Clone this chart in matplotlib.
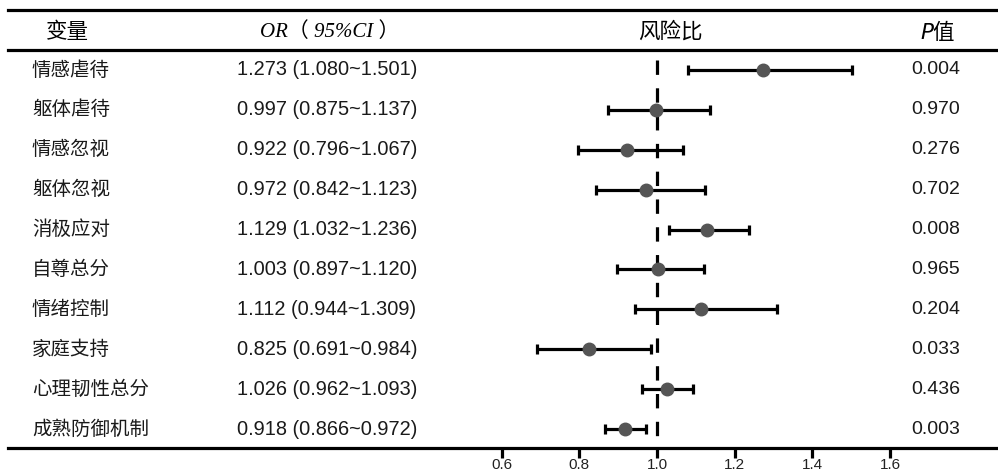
import matplotlib
matplotlib.use("Agg")
import matplotlib.pyplot as plt
import numpy as np

plt.rcParams['font.family'] = ['Noto Sans CJK SC', 'DejaVu Sans']

# ── Data ─────────────────────────────────────────────────────────────────────
variables = ["情感虐待", "躯体虐待", "情感忽视", "躯体忽视", "消极应对",
             "自尊总分", "情绪控制", "家庭支持", "心理韧性总分", "成熟防御机制"]
or_vals = [1.273, 0.997, 0.922, 0.972, 1.129, 1.003, 1.112, 0.825, 1.026, 0.918]
ci_low  = [1.080, 0.875, 0.796, 0.842, 1.032, 0.897, 0.944, 0.691, 0.962, 0.866]
ci_high = [1.501, 1.137, 1.067, 1.123, 1.236, 1.120, 1.309, 0.984, 1.093, 0.972]
p_vals  = ["0.004", "0.970", "0.276", "0.702", "0.008",
           "0.965", "0.204", "0.033", "0.436", "0.003"]
xticks  = [0.6, 0.8, 1.0, 1.2, 1.4, 1.6]

W, H = 998, 473
fig = plt.figure(figsize=(W / 100, H / 100), dpi=100)

# axes spans the whole table width; x scale: 1.0 -> px 657, 388.5 px per unit
px_left, px_right, px_top, px_bot = 8, 998, 10, 448
scale = 388.5
x0 = 1.0 - (657 - px_left) / scale
x1 = 1.0 + (px_right - 657) / scale
ax = fig.add_axes([px_left / W, 1 - px_bot / H,
                   (px_right - px_left) / W, (px_bot - px_top) / H])
ax.set_xlim(x0, x1)
# rows at px 70 + 39.9*i
ax.set_ylim((px_bot - 70) / 39.9, (px_top - 70) / 39.9)

def px(xp):
    # pixel x -> axes fraction
    return (xp - px_left) / (px_right - px_left)

def py(yp):
    # pixel y -> data y
    return (yp - 70) / 39.9

lw_rule = 2.3
for s in ["top", "left", "right"]:
    ax.spines[s].set_visible(False)
ax.spines["bottom"].set_linewidth(lw_rule)
ax.axhline(py(10), color="black", lw=lw_rule, clip_on=False)
ax.axhline(py(50), color="black", lw=lw_rule, clip_on=False)

# reference line at OR = 1
ax.plot([1.0, 1.0], [py(60), py(448)], color="black", lw=2.3,
        ls=(0, (4.5, 4.2)), zorder=1)

# forest plot
ypos = np.arange(len(variables))
or_arr = np.array(or_vals)
err = [or_arr - np.array(ci_low), np.array(ci_high) - or_arr]
ax.errorbar(or_arr, ypos, xerr=err, fmt="o", color="#555555", ms=9,
            ecolor="black", elinewidth=2.3, capsize=3.6, capthick=2.3, zorder=3)

# axis ticks
ax.set_yticks([])
ax.set_xticks(xticks)
ax.set_xticklabels([f"{t:.1f}" for t in xticks], fontsize=11,
                   family="Liberation Sans", color="#222222")
ax.tick_params(axis="x", length=7, width=2.3, pad=0)

# table text
tr = ax.get_yaxis_transform()
hdr_y = py(32)
ax.text(px(67), hdr_y, "变量", ha="center", va="center", fontsize=15.5, transform=tr)
ax.text(px(330), hdr_y, "OR（ 95%CI ）", ha="center", va="center", fontsize=15,
        family=["Liberation Serif", "Noto Sans CJK SC"], style="italic", transform=tr)
ax.text(px(670), hdr_y, "风险比", ha="center", va="center", fontsize=15.5, transform=tr)
ax.text(px(938), hdr_y, "$\\it{P}$值", ha="center", va="center", fontsize=15.5,
        transform=tr)

for i, name in enumerate(variables):
    ax.text(px(32), i, name, ha="left", va="center", fontsize=14, transform=tr,
            color="#1a1a1a")
    ax.text(px(237), i, f"{or_vals[i]:.3f} ({ci_low[i]:.3f}~{ci_high[i]:.3f})",
            ha="left", va="center", fontsize=14.4, family="Liberation Sans",
            transform=tr, color="#1a1a1a")
    ax.text(px(936), i, p_vals[i], ha="center", va="center", fontsize=14,
            family="Liberation Sans", transform=tr, color="#1a1a1a")

fig.savefig("out.png", dpi=100)
